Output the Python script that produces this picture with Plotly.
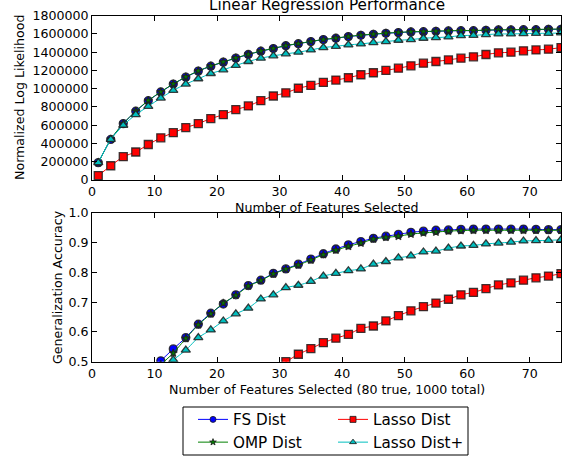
import plotly.graph_objects as go

x_vals = list(range(1, 76, 2))

# Top panel: Normalized Log Likelihood
ll_fs = [190000, 444000, 618000, 753000, 869000, 964000, 1051000, 1127000, 1193000, 1247000,
         1291000, 1335000, 1375000, 1411000, 1440000, 1471000, 1493000, 1516000, 1538000, 1553000,
         1571000, 1585000, 1596000, 1607000, 1615000, 1622000, 1625000, 1629000, 1633000, 1636000,
         1636000, 1640000, 1644000, 1644000, 1647000, 1647000, 1651000, 1651000]
ll_omp = [188000, 446000, 620000, 755000, 871000, 966000, 1053000, 1129000, 1195000, 1249000,
          1293000, 1337000, 1377000, 1413000, 1442000, 1473000, 1495000, 1518000, 1540000, 1555000,
          1573000, 1587000, 1598000, 1609000, 1617000, 1624000, 1627000, 1631000, 1635000, 1638000,
          1638000, 1642000, 1646000, 1646000, 1649000, 1649000, 1653000, 1653000]
ll_lasso = [48000, 156000, 255000, 307000, 389000, 462000, 518000, 574000, 618000, 673000,
            716000, 771000, 811000, 869000, 920000, 955000, 1005000, 1036000, 1069000, 1095000,
            1120000, 1153000, 1175000, 1200000, 1225000, 1251000, 1280000, 1298000, 1316000, 1335000,
            1349000, 1375000, 1393000, 1400000, 1415000, 1425000, 1433000, 1451000]
ll_lasso_plus = [190000, 444000, 600000, 716000, 807000, 898000, 982000, 1051000, 1109000, 1167000,
                 1207000, 1255000, 1298000, 1335000, 1360000, 1382000, 1400000, 1425000, 1451000, 1465000,
                 1480000, 1491000, 1505000, 1516000, 1531000, 1538000, 1553000, 1560000, 1567000, 1582000,
                 1585000, 1593000, 1600000, 1600000, 1604000, 1607000, 1607000, 1611000]

# Bottom panel: Generalization Accuracy (None = below visible range)
acc_fs = [None, None, None, None, 0.46, 0.503, 0.543, 0.581, 0.626, 0.663,
          0.694, 0.725, 0.756, 0.774, 0.797, 0.812, 0.828, 0.845, 0.863, 0.879,
          0.893, 0.904, 0.915, 0.922, 0.928, 0.935, 0.939, 0.942, 0.943, 0.945,
          0.946, 0.946, 0.946, 0.946, 0.946, 0.945, 0.944, 0.944]
acc_omp = [None, None, None, None, 0.45, 0.49, 0.529, 0.578, 0.624, 0.661,
           0.697, 0.723, 0.754, 0.773, 0.795, 0.811, 0.825, 0.842, 0.860, 0.875,
           0.888, 0.899, 0.912, 0.918, 0.922, 0.929, 0.933, 0.936, 0.939, 0.941,
           0.942, 0.942, 0.942, 0.942, 0.942, 0.942, 0.942, 0.942]
acc_lasso = [None, None, None, None, None, None, None, None, None, None,
             None, None, None, None, 0.48, 0.50, 0.525, 0.544, 0.564, 0.579,
             0.592, 0.612, 0.620, 0.637, 0.655, 0.671, 0.685, 0.697, 0.710, 0.725,
             0.733, 0.746, 0.758, 0.765, 0.774, 0.782, 0.788, 0.796]
acc_lasso_plus = [None, None, None, None, None, 0.47, 0.506, 0.539, 0.581, 0.607,
                  0.637, 0.661, 0.680, 0.711, 0.725, 0.749, 0.757, 0.770, 0.788, 0.797,
                  0.806, 0.812, 0.828, 0.837, 0.849, 0.856, 0.869, 0.872, 0.882, 0.889,
                  0.891, 0.896, 0.899, 0.902, 0.906, 0.907, 0.908, 0.910]

ll_ticks = [0, 200000, 400000, 600000, 800000, 1000000, 1200000, 1400000, 1600000, 1800000]
acc_ticks = [0.5, 0.6, 0.7, 0.8, 0.9, 1.0]
x_ticks = [0, 10, 20, 30, 40, 50, 60, 70]

series = [
    ("FS Dist", "#0000ff", "circle", 8, ll_fs, acc_fs),
    ("OMP Dist", "#008000", "star", 6, ll_omp, acc_omp),
    ("Lasso Dist", "#ff0000", "square", 8, ll_lasso, acc_lasso),
    ("Lasso Dist+", "#00bfbf", "triangle-up", 8, ll_lasso_plus, acc_lasso_plus),
]

FONT = "DejaVu Sans"
W, H = 574, 457
FS_LABEL = 12.6
FS_BIG = 15.2

fig = go.Figure()
for name, color, sym, size, ll, acc in series:
    mk = dict(symbol=sym, size=size, color=color,
              line=dict(color="rgba(30,30,30,0.85)", width=1.3))
    fig.add_trace(go.Scatter(x=x_vals, y=ll, mode="lines+markers", name=name,
                             line=dict(color=color, width=1, shape="spline", smoothing=0.6),
                             marker=mk, showlegend=False, xaxis="x", yaxis="y"))
    fig.add_trace(go.Scatter(x=x_vals, y=acc, mode="lines+markers", name=name,
                             line=dict(color=color, width=1, shape="spline", smoothing=0.6),
                             marker=mk, showlegend=False, xaxis="x2", yaxis="y2"))

# legend entries (smaller markers, like the reference legend)
for i, (name, color, sym, size, ll, acc) in enumerate(series):
    fig.add_trace(go.Scatter(x=[None], y=[None], mode="lines+markers", name=name,
                             line=dict(color=color, width=1),
                             marker=dict(symbol=sym, size=6 if sym != "star" else 5, color=color,
                                         line=dict(color="rgba(30,30,30,0.85)", width=1)),
                             legend="legend" if i in (0, 1) else "legend2",
                             xaxis="x", yaxis="y"))

xdom = [92 / W, 561 / W]
top_dom = [1 - 180 / H, 1 - 15.7 / H]
bot_dom = [1 - 361.7 / H, 1 - 213 / H]

axis_common = dict(showline=True, linecolor="black", linewidth=1, mirror="ticks",
                   ticks="inside", ticklen=5, tickwidth=1, tickcolor="black",
                   showgrid=False, zeroline=False, automargin=False,
                   tickfont=dict(family=FONT, size=FS_LABEL, color="black"))

fig.update_layout(
    template="none",
    width=W, height=H,
    margin=dict(l=0, r=0, t=0, b=0, autoexpand=False),
    paper_bgcolor="white", plot_bgcolor="white",
    font=dict(family=FONT, size=FS_LABEL, color="black"),
    xaxis=dict(domain=xdom, range=[0, 75], tickvals=x_ticks, anchor="y", **axis_common),
    yaxis=dict(domain=top_dom, range=[0, 1800000], tickvals=ll_ticks,
               ticktext=[str(v) for v in ll_ticks], anchor="x", **axis_common),
    xaxis2=dict(domain=xdom, range=[0, 75], tickvals=x_ticks, anchor="y2", **axis_common),
    yaxis2=dict(domain=bot_dom, range=[0.5, 1.0], tickvals=acc_ticks,
                ticktext=[f"{v:.1f}" for v in acc_ticks], anchor="x2", **axis_common),
    legend=dict(x=193 / W, y=1 - 403 / H, xanchor="left", yanchor="top",
                bgcolor="rgba(0,0,0,0)", borderwidth=0,
                font=dict(family=FONT, size=FS_BIG, color="black"), tracegroupgap=0),
    legend2=dict(x=333 / W, y=1 - 403 / H, xanchor="left", yanchor="top",
                 bgcolor="rgba(0,0,0,0)", borderwidth=0,
                 font=dict(family=FONT, size=FS_BIG, color="black"), tracegroupgap=0),
    shapes=[dict(type="rect", xref="paper", yref="paper",
                 x0=183 / W, x1=468 / W, y0=1 - 455 / H, y1=1 - 407 / H,
                 line=dict(color="black", width=1), fillcolor="rgba(0,0,0,0)")],
    annotations=[
        dict(text="Linear Regression Performance", xref="paper", yref="paper",
             x=326.5 / W, y=1 - 16.5 / H, xanchor="center", yanchor="bottom",
             showarrow=False, font=dict(family=FONT, size=FS_BIG)),
        dict(text="Normalized Log Likelihood", xref="paper", yref="paper",
             x=20 / W, y=1 - 98 / H, xanchor="center", yanchor="middle", textangle=-90,
             showarrow=False, font=dict(family=FONT, size=FS_LABEL)),
        dict(text="Number of Features Selected", xref="paper", yref="paper",
             x=326.5 / W, y=1 - 207 / H, xanchor="center", yanchor="middle",
             showarrow=False, font=dict(family=FONT, size=FS_LABEL)),
        dict(text="Generalization Accuracy", xref="paper", yref="paper",
             x=57 / W, y=1 - 287 / H, xanchor="center", yanchor="middle", textangle=-90,
             showarrow=False, font=dict(family=FONT, size=FS_LABEL)),
        dict(text="Number of Features Selected (80 true, 1000 total)", xref="paper", yref="paper",
             x=326.5 / W, y=1 - 389 / H, xanchor="center", yanchor="middle",
             showarrow=False, font=dict(family=FONT, size=FS_LABEL)),
    ],
)

fig.write_html("out.html", config={"displayModeBar": False},
               post_script="document.body.style.margin='0';document.body.style.padding='0';")
